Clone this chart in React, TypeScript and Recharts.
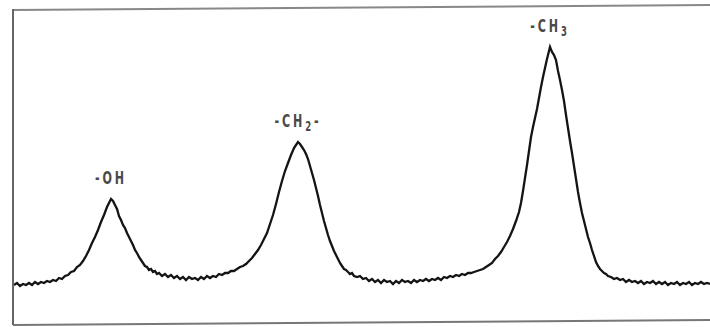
import React from 'react';
import { LineChart, Line, XAxis, YAxis, ReferenceLine, ReferenceDot } from 'recharts';

// trace: position along the sweep and signal above baseline
const shift = [
  14, 17, 20, 23, 26, 29, 32, 35, 38, 41, 44, 47, 50, 53, 56, 59, 62, 65, 68, 71, 74, 77, 80, 83, 86, 89,
  92, 95, 98, 101, 104, 107, 109, 111, 113, 115, 117, 119, 121, 123, 125, 127, 129, 131, 133, 135, 137,
  139, 141, 143, 145, 147, 149, 151, 153, 155, 157, 159, 162, 165, 168, 171, 174, 177, 180, 183, 186,
  189, 192, 195, 198, 201, 204, 207, 210, 213, 216, 219, 222, 225, 228, 231, 234, 237, 240, 243, 246,
  249, 252, 255, 258, 261, 264, 267, 270, 273, 276, 279, 282, 285, 288, 291, 294, 296, 298, 300, 302,
  304, 306, 308, 310, 312, 314, 316, 318, 320, 322, 324, 326, 328, 330, 332, 334, 336, 338, 340, 342,
  344, 346, 348, 350, 352, 354, 357, 360, 363, 366, 369, 372, 375, 378, 381, 384, 387, 390, 393, 396,
  399, 402, 405, 408, 411, 414, 417, 420, 423, 426, 429, 432, 435, 438, 441, 444, 447, 450, 453, 456,
  459, 462, 465, 468, 471, 474, 477, 480, 483, 486, 489, 492, 495, 498, 501, 504, 507, 510, 513, 516,
  519, 521, 523, 525, 527, 529, 531, 533, 535, 537, 539, 541, 543, 545, 547, 549, 550, 552, 554, 556,
  558, 560, 562, 564, 566, 568, 570, 572, 574, 576, 578, 580, 582, 584, 586, 588, 590, 592, 594, 596,
  598, 600, 602, 604, 606, 608, 611, 614, 617, 620, 623, 626, 629, 632, 635, 638, 641, 644, 647, 650,
  653, 656, 659, 662, 665, 668, 671, 674, 677, 680, 683, 686, 689, 692, 695, 698, 701, 704, 707, 710,
];

const signal = [
  -2, 0, -3, -1, -2, 0, -2, 1, -1, 1, 0, 2, 1, 3, 2, 5, 4, 7, 8, 11, 12, 16, 18, 22, 27, 33,
  40, 46, 53, 61, 68, 76, 80, 84, 82, 78, 74, 67, 63, 58, 55, 50, 46, 42, 38, 33, 30,
  26, 23, 20, 17, 16, 13, 14, 11, 12, 9, 10, 7, 9, 6, 8, 5, 7, 4, 6, 3,
  6, 4, 5, 3, 6, 4, 7, 5, 7, 6, 9, 8, 10, 10, 12, 12, 14, 16, 17, 19,
  22, 25, 29, 33, 38, 44, 50, 59, 68, 79, 91, 102, 112, 120, 128, 135, 138, 141, 139, 136,
  133, 129, 124, 117, 110, 103, 95, 87, 78, 70, 62, 55, 48, 42, 37, 32, 28, 24, 20, 17,
  14, 13, 11, 9, 10, 7, 6, 7, 4, 5, 2, 4, 1, 3, 0, 3, 1, 2, -1, 2,
  0, 3, 1, 2, 0, 3, 1, 3, 2, 4, 2, 4, 3, 5, 3, 6, 5, 7, 6, 8,
  7, 9, 8, 10, 10, 11, 12, 13, 14, 16, 18, 20, 24, 27, 31, 36, 41, 47, 54, 62,
  71, 80, 92, 105, 118, 132, 146, 156, 165, 174, 185, 196, 206, 215, 224, 232, 236, 231, 228, 223,
  212, 203, 193, 182, 168, 155, 142, 130, 117, 104, 91, 80, 70, 62, 54, 46, 40, 33, 27, 21,
  17, 14, 12, 10, 9, 7, 6, 4, 5, 3, 4, 1, 3, 1, 2, 0, 2, -1, 1, 0,
  2, -1, 1, -1, 1, -2, 0, -1, 1, -2, 0, -1, 1, -2, 0, -1, 1, -1, 0, -1,
];

const peakNames = ['-OH', '-CH2-', '-CH3'];
const peakShift = [111, 298, 550];
const peakSignal = [84, 141, 236];

const data = shift.map((x, i) => ({ x, y: signal[i] }));

const PeakText = ({ viewBox, text }: any) => {
  const cx = viewBox.x + viewBox.width / 2;
  const cy = viewBox.y + viewBox.height / 2 - 15;
  const parts = text.split(/(\d)/).filter((s: string) => s !== '');
  let sub = false;
  return (
    <text
      transform={`translate(${cx},${cy}) scale(0.95,1.4)`}
      textAnchor="middle"
      fontFamily="'DejaVu Sans Condensed', 'DejaVu Sans', sans-serif"
      fontSize={13}
      fontWeight={600}
      letterSpacing={3}
      fill="#4a4a4a"
    >
      {parts.map((p: string, i: number) => {
        const isNum = /\d/.test(p);
        const dy = isNum && !sub ? 2.5 : !isNum && sub ? -2.5 : 0;
        sub = isNum;
        return (
          <tspan key={i} dy={dy} fontSize={isNum ? 10 : 13}>
            {p}
          </tspan>
        );
      })}
    </text>
  );
};

const App: React.FC = () => {
  return (
    <div style={{ position: 'fixed', left: 0, top: 0, width: 710, height: 327, background: '#fff' }}>
      {/* left edge of the chart paper frame */}
      <div style={{ position: 'absolute', zIndex: 2, left: 12, top: 9, width: 2, height: 316, background: '#666' }} />
      <LineChart width={710} height={327} data={data} margin={{ top: 0, right: 0, bottom: 0, left: 0 }}>
        <XAxis dataKey="x" type="number" domain={[0, 710]} hide />
        <YAxis type="number" domain={[-44, 283]} hide />
        <ReferenceLine segment={[{ x: 13, y: 273 }, { x: 710, y: 278 }]} stroke="#888" strokeWidth={2} />
        <ReferenceLine segment={[{ x: 13, y: -42 }, { x: 710, y: -37 }]} stroke="#777" strokeWidth={2} />
        <Line
          type="linear"
          dataKey="y"
          stroke="#141414"
          strokeWidth={2.3}
          dot={false}
          activeDot={false}
          isAnimationActive={false}
        />
        {peakNames.map((name, i) => (
          <ReferenceDot
            key={name}
            x={peakShift[i]}
            y={peakSignal[i]}
            r={1}
            fill="none"
            stroke="none"
            label={(props: any) => <PeakText viewBox={props.viewBox} text={name} />}
          />
        ))}
      </LineChart>
    </div>
  );
};

export default App;
